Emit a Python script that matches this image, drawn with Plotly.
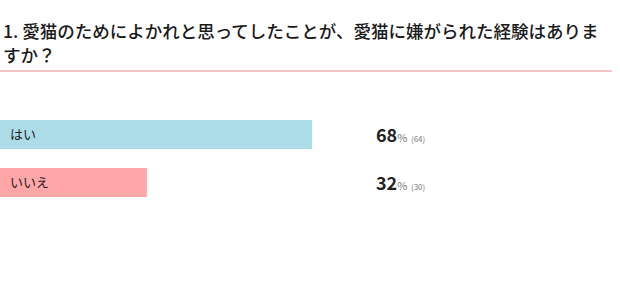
import plotly.graph_objects as go

categories = ["はい", "いいえ"]
percents = [68, 32]
counts = [64, 30]
colors = ["#ABDCE8", "#FFA6A9"]
title_lines = ["1. 愛猫のためによかれと思ってしたことが、愛猫に嫌がられた経験はありま", "すか？"]

FONT = "Noto Sans CJK JP"
fig = go.Figure()
fig.add_trace(go.Bar(
    y=list(range(len(categories))), x=percents, orientation="h",
    marker=dict(color=colors, line=dict(width=0)), width=0.6,
    hoverinfo="skip", showlegend=False,
))

annotations = []
for i, (c, p, n) in enumerate(zip(categories, percents, counts)):
    annotations.append(dict(x=0, y=i, xref="x", yref="y", text=c, showarrow=False,
                            xanchor="left", xshift=8, yshift=1,
                            font=dict(family=FONT, size=13, color="#222")))
    annotations.append(dict(x=374/620, y=i, xref="paper", yref="y",
                            text=f"<b>{p}</b><span style='font-size:11px;color:#777'>%</span>"
                                 f"<span style='font-size:8px;color:#777'>  ({n})</span>",
                            showarrow=False, xanchor="left", yshift=1,
                            font=dict(family=FONT, size=18, color="#222")))
for k, ypx in enumerate([31, 54.5]):
    annotations.append(dict(x=1/620, y=1 - ypx/290, xref="paper", yref="paper", xanchor="left", yanchor="middle",
                            text=title_lines[k], showarrow=False,
                            font=dict(family=FONT, size=17.5, color="#1a1a1a", weight=500)))

fig.update_layout(
    width=620, height=290, margin=dict(l=0, r=0, t=0, b=0),
    paper_bgcolor="white", plot_bgcolor="white",
    xaxis=dict(range=[0, 620/4.59], visible=False, fixedrange=True),
    yaxis=dict(range=[(290-134.5)/48, -134.5/48], visible=False, fixedrange=True),
    annotations=annotations,
    shapes=[dict(type="line", xref="paper", yref="paper", x0=0, x1=612/620,
                 y0=1-71/290, y1=1-71/290, line=dict(color="#E48A92", width=1.2))],
)
fig.write_html("out.html")
